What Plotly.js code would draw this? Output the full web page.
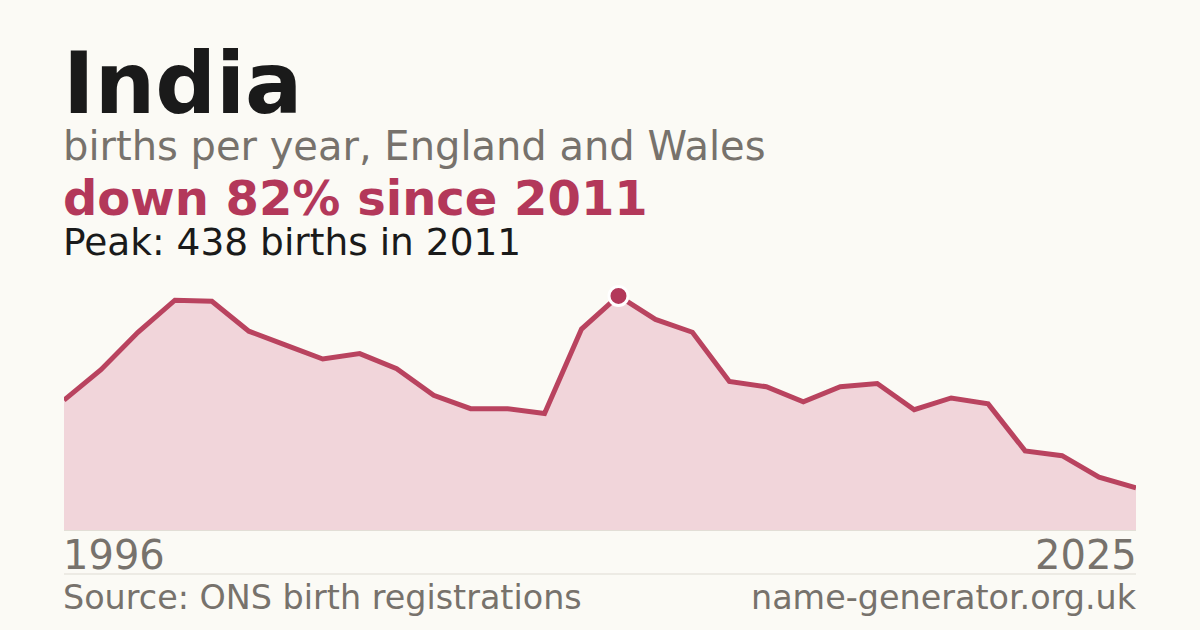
<!DOCTYPE html>
<html>
<head>
<meta charset="utf-8">
<script src="https://cdn.plot.ly/plotly-3.0.1.min.js"></script>
<style>
  html, body { margin: 0; padding: 0; background: #fbfaf5; }
  #chart { width: 1200px; height: 630px; }
</style>
</head>
<body>
<div id="chart"></div>
<script>
const years = [1996, 1997, 1998, 1999, 2000, 2001, 2002, 2003, 2004, 2005,
  2006, 2007, 2008, 2009, 2010, 2011, 2012, 2013, 2014, 2015,
  2016, 2017, 2018, 2019, 2020, 2021, 2022, 2023, 2024, 2025];
const births = [243, 300, 370, 430, 428, 372, 346, 320, 330, 302,
  252, 227, 227, 218, 376, 438, 394, 370, 278, 268,
  240, 268, 274, 225, 247, 236, 148, 139, 99, 79];
const peakYear = 2011;
const peakValue = 438;

const titleText = 'India';
const subtitleText = 'births per year, England and Wales';
const changeText = 'down 82% since 2011';
const peakText = 'Peak: 438 births in 2011';
const sourceText = 'Source: ONS birth registrations';
const siteText = 'name-generator.org.uk';

const FONT = '"DejaVu Sans", sans-serif';
const RED = '#b3385a';
const GREY = '#77726c';

// plot area spans y 274..530 px; convert a pixel row to paper y
const plotTop = 274, plotBottom = 530;
const py = Y => (plotBottom - Y) / (plotBottom - plotTop);
// annotation boxes are centred roughly 0.346em above the baseline
const atBase = (base, size) => py(base - 0.346 * size);

const traces = [
  {
    x: years,
    y: births,
    type: 'scatter',
    mode: 'lines',
    fill: 'tozeroy',
    fillcolor: '#f1d5da',
    line: { color: '#b9435f', width: 5 },
    hoverinfo: 'skip'
  },
  {
    x: [peakYear],
    y: [peakValue],
    type: 'scatter',
    mode: 'markers',
    marker: { size: 19, color: RED, line: { color: '#ffffff', width: 3 } },
    hoverinfo: 'skip'
  }
];

const label = (t, x, xref, xanchor, base, size, color, bold) => ({
  text: bold ? '<b>' + t + '</b>' : t,
  x: x, xref: xref, xanchor: xanchor,
  xshift: xanchor === 'left' ? -2 : 2,
  y: atBase(base, size), yref: 'paper', yanchor: 'middle',
  showarrow: false,
  borderpad: 0,
  font: { family: FONT, size: size, color: color }
});

const layout = {
  width: 1200,
  height: 630,
  paper_bgcolor: '#fbfaf5',
  plot_bgcolor: '#fbfaf5',
  showlegend: false,
  margin: { l: 64, r: 64, t: plotTop, b: 630 - plotBottom, pad: 0 },
  xaxis: {
    range: [years[0], years[years.length - 1]],
    showgrid: false, zeroline: false, showticklabels: false,
    showline: true, linecolor: '#e2ded6', linewidth: 1,
    fixedrange: true
  },
  yaxis: {
    range: [0, 479],
    showgrid: false, zeroline: false, showticklabels: false,
    fixedrange: true
  },
  shapes: [
    {
      type: 'line', xref: 'paper', yref: 'paper',
      x0: 0, x1: 1, y0: py(574), y1: py(574),
      line: { color: '#dedbd3', width: 1 }
    }
  ],
  annotations: [
    label(titleText, 0, 'paper', 'left', 113, 85, '#1a1a1a', true),
    label(subtitleText, 0, 'paper', 'left', 160, 40, GREY, false),
    label(changeText, 0, 'paper', 'left', 215, 48, RED, true),
    label(peakText, 0, 'paper', 'left', 255, 37.5, '#1a1a1a', false),
    label(String(years[0]), years[0], 'x', 'left', 569, 40, GREY, false),
    label(String(years[years.length - 1]), years[years.length - 1], 'x', 'right', 569, 40, GREY, false),
    label(sourceText, 0, 'paper', 'left', 609, 33.4, GREY, false),
    label(siteText, 1, 'paper', 'right', 609, 33.4, GREY, false)
  ]
};

Plotly.newPlot('chart', traces, layout, { displayModeBar: false, staticPlot: true });
</script>
</body>
</html>
